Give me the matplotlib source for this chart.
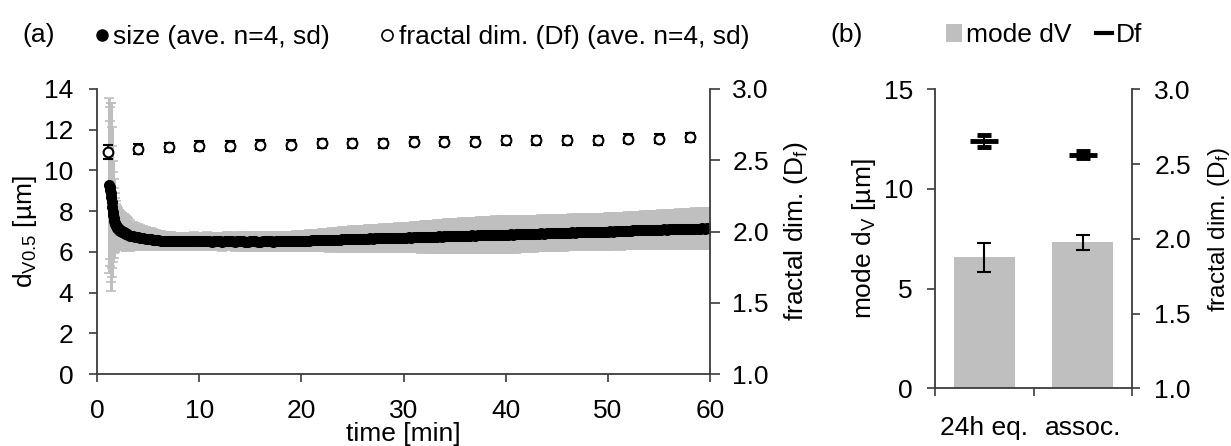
import numpy as np
import matplotlib
matplotlib.use("Agg")
import matplotlib.pyplot as plt
from matplotlib.lines import Line2D
from matplotlib.patches import Patch
from matplotlib.ticker import FormatStrFormatter

plt.rcParams['font.family'] = ['Liberation Sans', 'DejaVu Sans']
plt.rcParams['font.size'] = 19
plt.rcParams['axes.linewidth'] = 1.3

# ---------------- data: (a) time course ----------------
# median volume diameter d_V0.5 [um]: 3 s steps during the first two minutes,
# 15 s steps afterwards
size_time_early = np.arange(1.20, 2.99, 0.05)
size_time_late = np.arange(3.0, 60.001, 0.25)

size_mean_early = [
    9.28, 9.20, 9.05, 8.90, 8.70, 8.45, 8.20, 7.98, 7.80, 7.65, 7.52, 7.42,
    7.35, 7.30, 7.25, 7.21, 7.18, 7.15, 7.12, 7.10, 7.08, 7.06, 7.04, 7.03,
    7.01, 7.00, 6.98, 6.97, 6.96, 6.94, 6.93, 6.92, 6.90, 6.89, 6.88, 6.87,
]
size_sd_early = [
    4.30, 3.90, 3.40, 4.40, 4.60, 3.70, 3.00, 2.50, 2.10, 1.95, 1.60, 1.45,
    1.30, 1.20, 1.10, 1.05, 1.00, 0.99, 0.98, 0.97, 0.96, 0.95, 0.94, 0.93,
    0.92, 0.91, 0.90, 0.89, 0.88, 0.87, 0.86, 0.85, 0.84, 0.83, 0.82, 0.81,
]

size_mean_late = [
    6.85, 6.80, 6.77, 6.74, 6.71, 6.69, 6.67, 6.65, 6.63,
    6.61, 6.59, 6.57, 6.56, 6.55, 6.54, 6.54, 6.53,
    6.53, 6.52, 6.53, 6.52, 6.51, 6.52, 6.52, 6.51, 6.52, 6.53, 6.52, 6.52,
    6.51, 6.52, 6.52, 6.51, 6.50, 6.51, 6.52, 6.51, 6.50, 6.51, 6.52, 6.52,
    6.51, 6.50, 6.51, 6.52, 6.51, 6.50, 6.50, 6.51, 6.52, 6.51, 6.50, 6.50,
    6.51, 6.51, 6.52, 6.51, 6.50, 6.51, 6.52, 6.52, 6.51, 6.52, 6.53, 6.52,
    6.53, 6.54, 6.53, 6.54, 6.55, 6.54, 6.55, 6.56, 6.56, 6.57, 6.56, 6.57,
    6.58, 6.58, 6.57, 6.59, 6.60, 6.59, 6.60, 6.61, 6.62, 6.61, 6.62, 6.63,
    6.63, 6.62, 6.64, 6.65, 6.64, 6.65, 6.66, 6.65, 6.66, 6.67, 6.66, 6.67,
    6.68, 6.67, 6.68, 6.69, 6.68, 6.69, 6.70, 6.69, 6.70, 6.71, 6.70, 6.71,
    6.72, 6.73, 6.72, 6.74, 6.75, 6.74, 6.73, 6.74, 6.75, 6.76, 6.75, 6.76,
    6.77, 6.76, 6.77, 6.78, 6.77, 6.78, 6.79, 6.78, 6.79, 6.80, 6.81, 6.80,
    6.81, 6.82, 6.81, 6.82, 6.83, 6.82, 6.83, 6.84, 6.83, 6.84, 6.85, 6.84,
    6.85, 6.86, 6.85, 6.86, 6.87, 6.86, 6.87, 6.88, 6.87, 6.88, 6.89, 6.90,
    6.90, 6.91, 6.90, 6.91, 6.92, 6.93, 6.92, 6.93, 6.94, 6.93, 6.94, 6.95,
    6.95, 6.96, 6.95, 6.96, 6.97, 6.96, 6.97, 6.98, 6.97, 6.98, 6.99, 6.98,
    6.99, 7.00, 6.99, 7.00, 7.01, 7.00, 7.01, 7.02, 7.01, 7.02, 7.03, 7.04,
    7.04, 7.05, 7.06, 7.05, 7.06, 7.07, 7.06, 7.07, 7.08, 7.07, 7.08, 7.09,
    7.09, 7.10, 7.09, 7.10, 7.11, 7.10, 7.11, 7.12, 7.11, 7.12, 7.13, 7.12,
    7.13, 7.14, 7.13, 7.14, 7.15, 7.14, 7.15, 7.16,
]
size_sd_late = [
    0.80, 0.75, 0.70, 0.67, 0.64, 0.62, 0.60, 0.58, 0.56,
    0.54, 0.52, 0.50, 0.48, 0.46, 0.45, 0.44, 0.43,
    0.43, 0.42, 0.42, 0.43, 0.42, 0.42, 0.43, 0.42, 0.42, 0.43, 0.43, 0.42,
    0.43, 0.43, 0.44, 0.43, 0.43, 0.44, 0.43, 0.44, 0.44, 0.43, 0.44, 0.44,
    0.44, 0.45, 0.44, 0.45, 0.45, 0.44, 0.45, 0.45, 0.46, 0.45, 0.45, 0.46,
    0.46, 0.46, 0.45, 0.46, 0.46, 0.47, 0.46, 0.47, 0.47, 0.47, 0.46, 0.47,
    0.47, 0.48, 0.48, 0.49, 0.49, 0.50, 0.50, 0.51, 0.52, 0.52, 0.53, 0.54,
    0.55, 0.55, 0.56, 0.57, 0.57, 0.58, 0.59, 0.59, 0.60, 0.61, 0.61, 0.62,
    0.62, 0.63, 0.63, 0.64, 0.64, 0.65, 0.65, 0.66, 0.66, 0.67, 0.67, 0.68,
    0.68, 0.69, 0.69, 0.70, 0.70, 0.71, 0.71, 0.72, 0.72, 0.73, 0.73, 0.74,
    0.74, 0.75, 0.76, 0.76, 0.77, 0.78, 0.78, 0.79, 0.80, 0.80, 0.81, 0.82,
    0.82, 0.83, 0.83, 0.84, 0.84, 0.85, 0.85, 0.86, 0.86, 0.86, 0.87, 0.87,
    0.87, 0.88, 0.88, 0.88, 0.89, 0.89, 0.89, 0.90, 0.90, 0.90, 0.90, 0.90,
    0.90, 0.90, 0.90, 0.90, 0.89, 0.89, 0.89, 0.89, 0.89, 0.89, 0.89, 0.88,
    0.88, 0.88, 0.88, 0.88, 0.88, 0.88, 0.88, 0.88, 0.88, 0.88, 0.88, 0.88,
    0.88, 0.88, 0.88, 0.88, 0.88, 0.88, 0.88, 0.88, 0.88, 0.88, 0.88, 0.88,
    0.88, 0.88, 0.88, 0.89, 0.89, 0.89, 0.89, 0.89, 0.90, 0.90, 0.90, 0.90,
    0.90, 0.91, 0.91, 0.91, 0.92, 0.92, 0.92, 0.93, 0.93, 0.93, 0.94, 0.94,
    0.95, 0.95, 0.95, 0.96, 0.96, 0.96, 0.97, 0.97, 0.97, 0.98, 0.98, 0.98,
    0.99, 0.99, 0.99, 0.99, 1.00, 1.00, 1.00, 1.00,
]

size_time = np.concatenate([size_time_early, size_time_late])
size_mean = np.concatenate([size_mean_early, size_mean_late])
size_sd = np.concatenate([size_sd_early, size_sd_late])

# fractal dimension, every 3 min
df_time = [1.1, 4, 7, 10, 13, 16, 19, 22, 25, 28, 31, 34, 37, 40, 43, 46, 49, 52, 55, 58]
df_mean = [2.56, 2.58, 2.59, 2.60, 2.60, 2.61, 2.61, 2.62, 2.62, 2.62,
           2.63, 2.63, 2.63, 2.64, 2.64, 2.64, 2.64, 2.65, 2.65, 2.66]
df_sd = [0.050, 0.035, 0.033, 0.033, 0.033, 0.033, 0.032, 0.032, 0.032, 0.032,
         0.032, 0.032, 0.032, 0.032, 0.032, 0.032, 0.032, 0.032, 0.032, 0.032]

# ---------------- data: (b) comparison ----------------
groups = ['24h eq.', 'assoc.']
mode_dv = [6.57, 7.33]
mode_dv_sd = [0.74, 0.38]
group_df = [2.652, 2.563]
group_df_sd = [0.040, 0.023]

GREY = '#BFBFBF'
SPINE = '#3c3c3c'

fig = plt.figure(figsize=(12.31, 4.46), dpi=100)


def style_axes(ax, left=True, right=False):
    for side in ('top', 'left', 'right', 'bottom'):
        ax.spines[side].set_color(SPINE)
    ax.spines['top'].set_visible(False)
    ax.spines['left'].set_visible(left)
    ax.spines['right'].set_visible(right)


# ---------------- panel (a) ----------------
ax = fig.add_axes([97 / 1231, 1 - 374 / 446, 613 / 1231, 285 / 446])
ax.errorbar(size_time, size_mean, yerr=size_sd, fmt='none', ecolor=GREY,
            elinewidth=2.2, capsize=3.6, capthick=1.2, zorder=1)
ax.plot(size_time, size_mean, 'o', color='black', ms=8, mew=0, zorder=3)
ax.set_xlim(0, 60)
ax.set_ylim(0, 14)
ax.set_xticks(range(0, 61, 10))
ax.set_yticks(range(0, 15, 2))
style_axes(ax, left=True, right=False)
ax.tick_params(axis='y', direction='out', length=6, width=1.2, pad=11, colors=SPINE, labelcolor='black')
ax.tick_params(axis='x', direction='out', length=6, width=1.2, pad=12, colors=SPINE, labelcolor='black')
ax.set_xlabel('time [min]')
ax.xaxis.set_label_coords(0.5, -0.21)
ax.xaxis.label.set(va='center')
ax.set_ylabel(r'$\mathregular{d_{V0.5}}$ [µm]')

axr = ax.twinx()
axr.errorbar(df_time, df_mean, yerr=df_sd, fmt='o', color='black', mfc='white',
             mec='black', ms=7, mew=1.5, ecolor='black', elinewidth=1.3,
             capsize=3.8, capthick=2.0, zorder=3)
axr.set_ylim(1.0, 3.0)
axr.set_yticks([1.0, 1.5, 2.0, 2.5, 3.0])
axr.yaxis.set_major_formatter(FormatStrFormatter('%.1f'))
style_axes(axr, left=False, right=True)
axr.spines['bottom'].set_visible(False)
axr.tick_params(axis='y', direction='out', length=7, width=1.2, pad=9, colors=SPINE, labelcolor='black')
axr.set_ylabel(r'fractal dim. ($\mathregular{D_f}$)')

ax.yaxis.set_label_coords(-0.117, 0.5)
axr.yaxis.set_label_coords(1.14, 0.5)
ax.yaxis.label.set(ha='center', va='center')
axr.yaxis.label.set(ha='center', va='center')

# legend (a)
h_size = Line2D([], [], ls='none', marker='o', color='black', ms=8)
h_df = Line2D([], [], ls='none', marker='o', mfc='white', mec='black', ms=8, mew=1.2)
fig.legend([h_size, h_df], ['size (ave. n=4, sd)', 'fractal dim. (Df) (ave. n=4, sd)'],
           loc='center left', bbox_to_anchor=(95 / 1231, 1 - 37 / 446), ncol=2,
           frameon=False, borderpad=0, borderaxespad=0, handlelength=0.5,
           handletextpad=0.17, columnspacing=1.95, fontsize=19)
fig.text(22 / 1231, 1 - 35 / 446, '(a)', ha='left', va='center', fontsize=19)

# ---------------- panel (b) ----------------
bx = fig.add_axes([935 / 1231, 1 - 388.3 / 446, 197 / 1231, 299 / 446])
pos = np.arange(len(groups)) + 0.5
bx.bar(pos, mode_dv, width=0.62, color=GREY, zorder=1)
bx.errorbar(pos, mode_dv, yerr=mode_dv_sd, fmt='none', ecolor='black',
            elinewidth=1.5, capsize=5, capthick=1.5, zorder=2)
bx.set_xlim(0, 2)
bx.set_ylim(0, 15)
bx.set_yticks([0, 5, 10, 15])
bx.set_xticks(pos)
bx.set_xticklabels(groups)
bx.set_xticks([0, 1, 2], minor=True)
style_axes(bx, left=True, right=False)
bx.tick_params(axis='x', which='major', length=0, pad=20)
bx.tick_params(axis='x', which='minor', direction='out', length=6, width=1.2, colors=SPINE)
bx.tick_params(axis='y', direction='out', length=6, width=1.2, pad=10, colors=SPINE, labelcolor='black')
bx.set_ylabel(r'mode $\mathregular{d_V}$ [µm]')
bx.yaxis.set_label_coords(-0.36, 0.5)
bx.yaxis.label.set(ha='center', va='center')

bxr = bx.twinx()
bxr.errorbar(pos, group_df, yerr=group_df_sd, fmt='_', color='black', ms=20, mew=3.5,
             ecolor='black', elinewidth=1.5, capsize=5, capthick=1.5, zorder=3)
bxr.set_ylim(1.0, 3.0)
bxr.set_yticks([1.0, 1.5, 2.0, 2.5, 3.0])
bxr.yaxis.set_major_formatter(FormatStrFormatter('%.1f'))
style_axes(bxr, left=False, right=True)
bxr.spines['bottom'].set_visible(False)
bxr.tick_params(axis='y', direction='out', length=6, width=1.2, pad=10, colors=SPINE, labelcolor='black')
bxr.set_ylabel(r'fractal dim. ($\mathregular{D_f}$)', fontsize=17.5)
bxr.yaxis.set_label_coords(1.44, 0.53)
bxr.yaxis.label.set(ha='center', va='center')

# legend (b)
h_bar = Patch(facecolor=GREY, edgecolor='none')
h_line = Line2D([], [], color='black', lw=3)
fig.legend([h_bar, h_line], ['mode dV', 'Df'],
           loc='center left', bbox_to_anchor=(946 / 1231, 1 - 35 / 446), ncol=2,
           frameon=False, borderpad=0, borderaxespad=0, handlelength=0.62,
           handletextpad=0.15, columnspacing=0.9, fontsize=19)
fig.text(830 / 1231, 1 - 35 / 446, '(b)', ha='left', va='center', fontsize=19)

fig.savefig('out.png', dpi=100)
